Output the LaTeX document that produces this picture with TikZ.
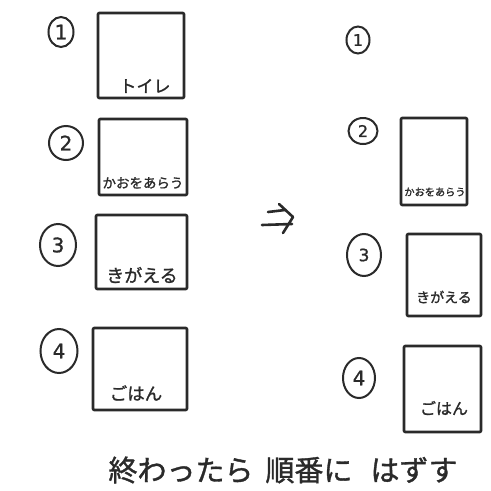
\documentclass[tikz,border=0pt]{standalone}
\usepackage{fontspec}
\newfontfamily\jp[FakeBold=1.2]{Noto Sans CJK JP}
\newfontfamily\digs[FakeBold=1]{DejaVu Sans}
\usetikzlibrary{shapes.geometric}
\definecolor{ink}{HTML}{2A2A2A}
\tikzset{
  pen/.style={draw=ink, line width=2.6pt, line cap=round, line join=round},
  card/.style={pen, rectangle, inner sep=0pt, rounded corners=1pt},
  num/.style={draw=ink, line width=2pt, ellipse, inner sep=0pt, text=ink, font=\digs\fontsize{20}{20}\selectfont},
  lab/.style={text=ink, inner sep=0pt, font=\jp}
}
\begin{document}
\begin{tikzpicture}[x=1pt,y=-1pt]
\useasboundingbox[fill=white] (0,0) rectangle (491,491);
% left column
\node[num, minimum width=25, minimum height=30] (l1) at (61,32) {1};
\node[num, minimum width=34, minimum height=34] (l2) at (66,143) {2};
\node[num, minimum width=36, minimum height=42] (l3) at (58,245) {3};
\node[num, minimum width=37, minimum height=44] (l4) at (59,351) {4};
\node[card, minimum width=86, minimum height=85] (bl1) at (141,55.5) {};
\node[card, minimum width=88, minimum height=76] (bl2) at (143,157) {};
\node[card, minimum width=91, minimum height=74] (bl3) at (141.5,252) {};
\node[card, minimum width=94, minimum height=82] (bl4) at (140,369) {};
\node[lab, font=\jp\fontsize{17}{17}\selectfont] (tl1) at (145,86) {トイレ};
\node[lab, font=\jp\fontsize{13.5}{14}\selectfont] (tl2) at (143,183) {かおをあらう};
\node[lab, font=\jp\fontsize{18}{18}\selectfont] (tl3) at (142,275) {きがえる};
\node[lab, font=\jp\fontsize{17.5}{18}\selectfont] (tl4) at (136,393) {ごはん};
% arrow
\draw[pen] (268,212) -- (285,210);
\draw[pen] (262,225) -- (292,224);
\draw[pen] (279,204) -- (293,217) -- (283,233);
% right column
\node[num, minimum width=23, minimum height=27, font=\digs\fontsize{16}{16}\selectfont] (r1) at (358,40) {1};
\node[num, minimum width=29, minimum height=26, font=\digs\fontsize{16}{16}\selectfont] (r2) at (363,131) {2};
\node[num, minimum width=34, minimum height=42, font=\digs\fontsize{17}{17}\selectfont] (r3) at (364,255) {3};
\node[num, minimum width=32, minimum height=40] (r4) at (359,378) {4};
\node[card, minimum width=66, minimum height=87] (br2) at (434,161.5) {};
\node[card, minimum width=74, minimum height=82] (br3) at (444,275) {};
\node[card, minimum width=77, minimum height=86] (br4) at (442.5,389) {};
\node[lab, font=\jp\fontsize{10.2}{11}\selectfont] (tr2) at (435,192) {かおをあらう};
\node[lab, font=\jp\fontsize{14}{14}\selectfont] (tr3) at (444,297) {きがえる};
\node[lab, font=\jp\fontsize{16}{16}\selectfont] (tr4) at (444,408) {ごはん};
% caption
\node[lab, font=\jp\fontsize{29}{29}\selectfont] (cap) at (283,470) {終わったら\hspace{12pt}順番に\hspace{18pt}はずす};
\end{tikzpicture}
\end{document}
